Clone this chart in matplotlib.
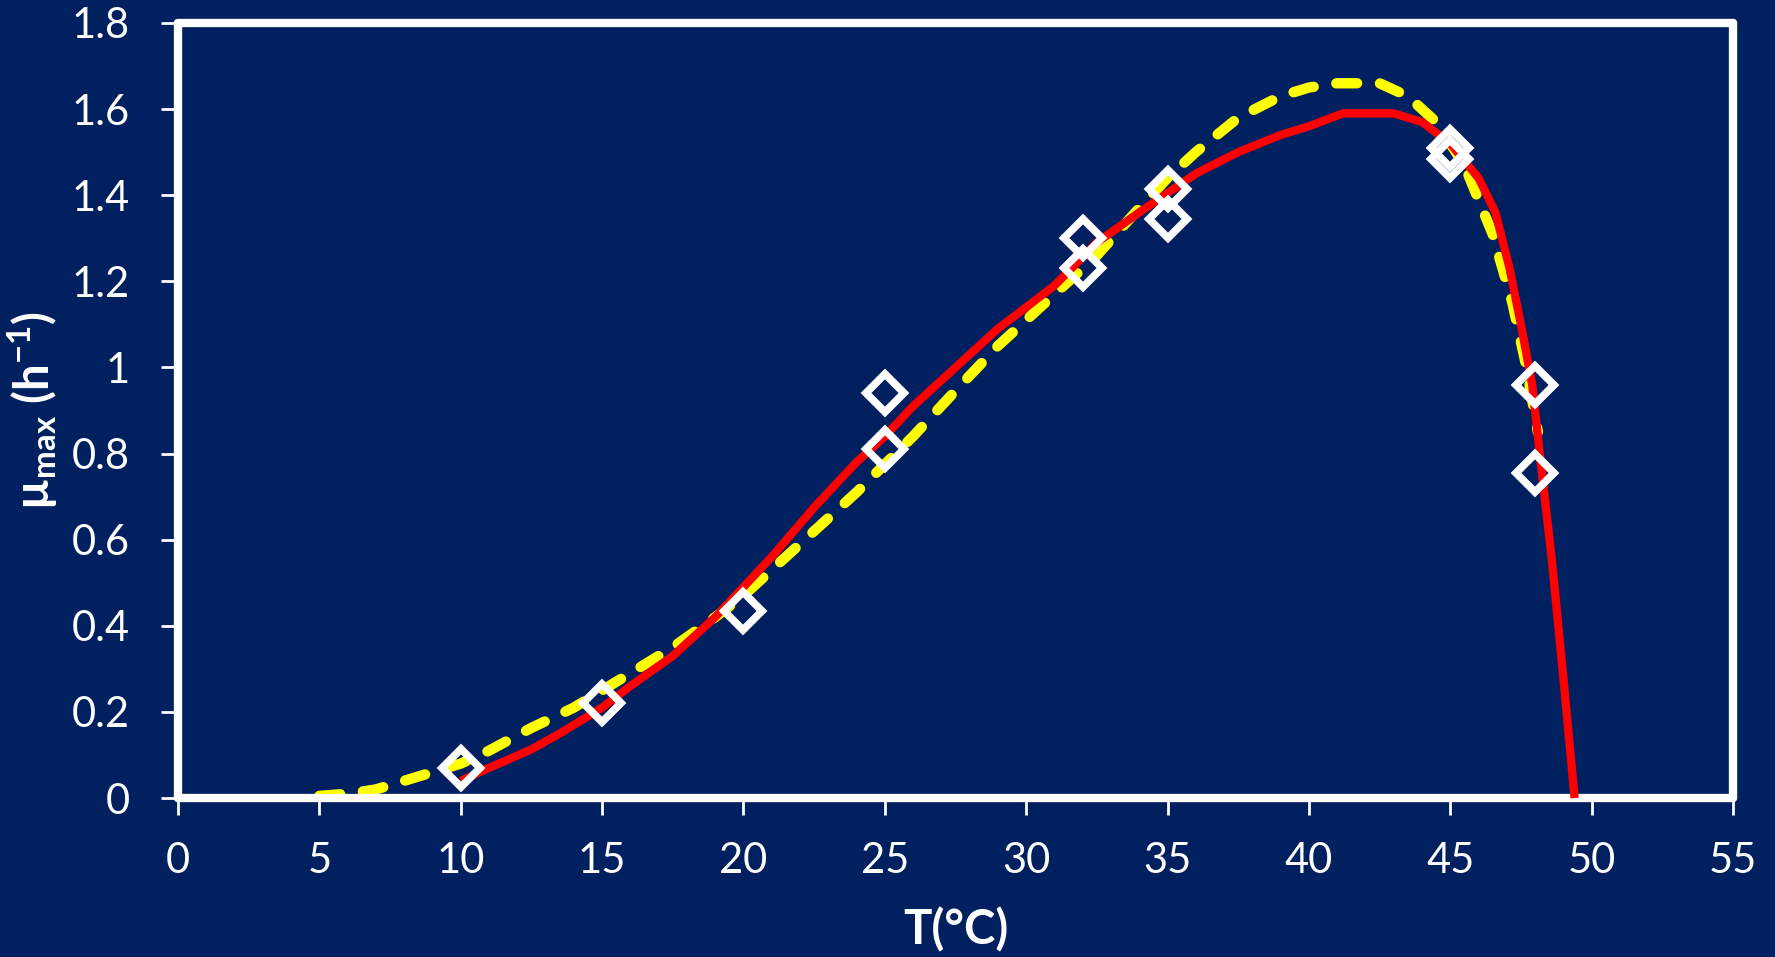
import numpy as np
import matplotlib.pyplot as plt
from matplotlib.ticker import MultipleLocator, FuncFormatter

# measured growth rates
t_obs = [10, 15, 20, 25, 25, 32, 32, 35, 35, 45, 45, 48, 48]
mu_obs = [0.07, 0.22, 0.435, 0.94, 0.81, 1.30, 1.23, 1.415, 1.345, 1.51, 1.485, 0.96, 0.755]

# model 1 (solid red)
t_red = [10, 11, 12.5, 13.5, 15, 16, 17.5, 19, 20, 21, 22.5, 24, 25, 26, 27.5, 29, 30,
         31, 32.5, 34, 35, 36, 37.5, 39, 40, 41.2, 43, 44, 45, 46, 46.6, 47.1, 47.5,
         47.9, 48.2, 48.6, 49.0, 49.4]
mu_red = [0.04, 0.07, 0.113, 0.15, 0.21, 0.26, 0.33, 0.42, 0.49, 0.56, 0.675, 0.78, 0.84,
          0.91, 1.0, 1.09, 1.14, 1.19, 1.29, 1.36, 1.405, 1.45, 1.50, 1.54, 1.56, 1.59,
          1.59, 1.57, 1.52, 1.44, 1.36, 1.23, 1.10, 0.96, 0.78, 0.55, 0.28, 0.0]

# model 2 (dashed yellow)
t_yel = [5, 6, 7, 8, 9, 10, 11, 12.5, 14, 15, 16, 17.5, 19, 20, 21, 22.5, 24, 25, 26,
         27.5, 29, 30, 31, 32.5, 34, 35, 36, 37.5, 39, 40, 41, 42.5, 43.5, 44.5, 45.5,
         46.5, 47.2, 47.7, 48.1]
mu_yel = [0.005, 0.01, 0.02, 0.04, 0.06, 0.08, 0.11, 0.163, 0.21, 0.25, 0.29, 0.35, 0.42,
          0.47, 0.53, 0.62, 0.71, 0.775, 0.84, 0.946, 1.05, 1.11, 1.17, 1.26, 1.37, 1.44,
          1.50, 1.58, 1.63, 1.65, 1.66, 1.66, 1.63, 1.57, 1.47, 1.31, 1.15, 1.0, 0.85]

NAVY = "#002060"

plt.rcParams["font.family"] = ["Lato", "DejaVu Sans"]
plt.rcParams["mathtext.fontset"] = "custom"
plt.rcParams["mathtext.rm"] = "Lato"
plt.rcParams["mathtext.bf"] = "Lato:bold"

fig = plt.figure(figsize=(17.75, 9.57), dpi=100, facecolor=NAVY)
ax = fig.add_axes([0.1003, 0.1661, 0.8760, 0.8099])
ax.set_facecolor(NAVY)

ax.plot(t_red, mu_red, color="red", lw=6, solid_capstyle="butt", clip_on=False, zorder=3)
ax.plot(t_yel, mu_yel, color="yellow", lw=7.5, linestyle=(0, (2.0, 2.2)),
        dash_capstyle="round", clip_on=False, zorder=2)
ax.plot(t_obs, mu_obs, linestyle="none", marker="D", markersize=19,
        markerfacecolor="none", markeredgecolor="white", markeredgewidth=5.5,
        clip_on=False, zorder=4)

ax.set_xlim(0, 55)
ax.set_ylim(0, 1.8)
ax.xaxis.set_major_locator(MultipleLocator(5))
ax.yaxis.set_major_locator(MultipleLocator(0.2))
ax.yaxis.set_major_formatter(FuncFormatter(lambda v, p: f"{v:g}"))

for side in ["left", "right", "top", "bottom"]:
    ax.spines[side].set_color("white")
    ax.spines[side].set_linewidth(6)
    ax.spines[side].set_capstyle("round")

ax.tick_params(axis="both", colors="white", labelsize=30, width=2, length=12,
               direction="out")
ax.tick_params(axis="x", pad=20)
ax.tick_params(axis="y", pad=23)
ax.tick_params(top=False, right=False)

ax.set_xlabel("T(°C)", color="white", fontsize=34, fontweight="bold", labelpad=19)
ax.set_ylabel(r"µ$_{\mathbf{max}}$ (h$^{\mathbf{-1}}$)", color="white", fontsize=34,
              fontweight="bold", labelpad=9)

fig.savefig("out.png", dpi=100, facecolor=NAVY)
